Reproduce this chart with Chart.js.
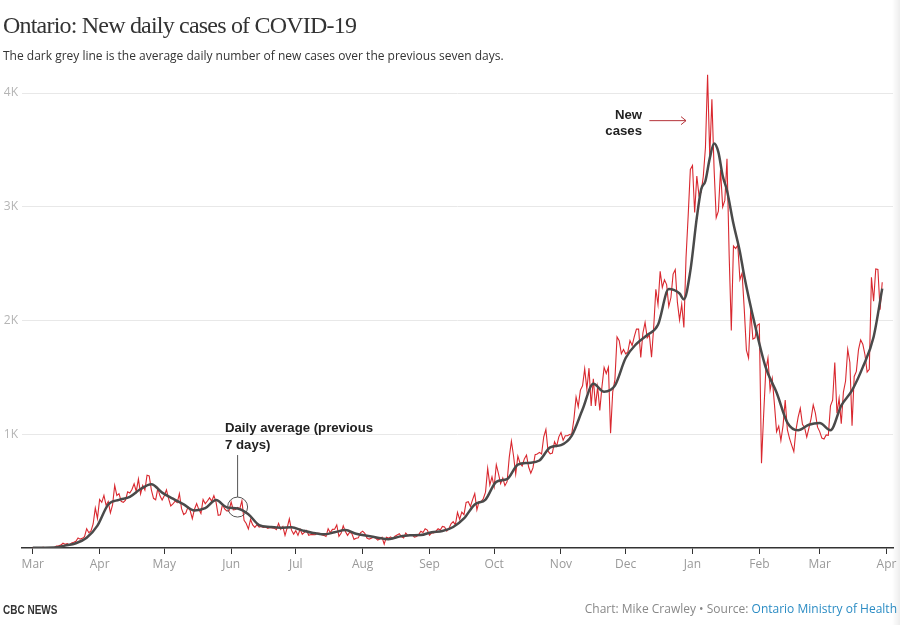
<!DOCTYPE html>
<html>
<head>
<meta charset="utf-8">
<title>Ontario: New daily cases of COVID-19</title>
<script src="https://cdn.jsdelivr.net/npm/chart.js@4.4.1/dist/chart.umd.min.js"></script>
<style>
  html, body { margin: 0; padding: 0; background: #fff; }
  #wrap { position: relative; width: 900px; height: 625px; overflow: hidden; }
  #chart { position: absolute; left: 0; top: 0; }
  .txt { position: absolute; white-space: nowrap; }
  #title { left: 3px; top: 13px; font-family: "Liberation Serif", serif; font-size: 24px; line-height: 24px; letter-spacing: -0.8px; color: #333; }
  #sub { left: 3px; top: 48px; font-family: "Open Sans", sans-serif; font-size: 12px; line-height: 16px; color: #333; }
  .note { font-family: "Liberation Sans", Arial, sans-serif; font-weight: bold; font-size: 13.2px; line-height: 17px; color: #222; }
  #noteAvg { left: 225px; top: 419px; }
  #noteNew { right: 258px; top: 107px; line-height: 16px; text-align: right; }
  #brand { left: 3px; top: 601px; font-family: "Liberation Sans", sans-serif; font-weight: bold; font-size: 12.5px; line-height: 18px; color: #333; transform: scaleX(0.8); transform-origin: 0 0; }
  #credit { right: 3px; top: 600px; font-family: "Open Sans", sans-serif; font-size: 12px; line-height: 18px; color: #888; }
  #credit span { color: #2b8cc4; }
  #edge { position: absolute; left: 892px; top: 0; width: 8px; height: 625px; background: linear-gradient(to right, rgba(0,0,0,0), rgba(0,0,0,0.07)); }
</style>
</head>
<body>
<div id="wrap">
  <canvas id="chart" width="900" height="625"></canvas>
  <div class="txt" id="title">Ontario: New daily cases of COVID-19</div>
  <div class="txt" id="sub">The dark grey line is the average daily number of new cases over the previous seven days.</div>
  <div class="txt note" id="noteAvg">Daily average (previous<br>7 days)</div>
  <div class="txt note" id="noteNew">New<br>cases</div>
  <div class="txt" id="brand">CBC NEWS</div>
  <div class="txt" id="credit">Chart: Mike Crawley • Source: <span>Ontario Ministry of Health</span></div>
  <div id="edge"></div>
</div>
<script>
// x axis: days since March 1, 2020
const monthDays = [0, 31, 61, 92, 122, 153, 184, 214, 245, 275, 306, 337, 365, 396];
const monthLabels = ["Mar", "Apr", "May", "Jun", "Jul", "Aug", "Sep", "Oct", "Nov", "Dec", "Jan", "Feb", "Mar", "Apr"];
const yTicks = [0, 1000, 2000, 3000, 4000];
const yTickLabels = ["", "1K", "2K", "3K", "4K"];

// new cases reported each day
const mar20 = [3,2,2,2,3,5,0,4,3,5,5,17,20,25,42,32,39,27,45,51,59,88,78,85,100,170,135,151,211,351,260];
const apr20 = [426,401,462,375,408,309,379,550,462,478,411,401,421,494,483,514,565,497,606,476,551,510,640,634,511,437,424,525,459,421];
const may20 = [459,511,434,370,387,412,399,477,346,294,308,361,329,258,341,391,340,304,427,390,413,441,412,460,404,287,292,383,344,326,326];
const jun20 = [404,335,338,356,344,415,243,215,167,251,203,182,205,184,190,181,184,173,180,177,175,161,216,163,189,111,178,257,157,122];
const jul20 = [153,111,165,121,138,154,112,118,118,116,130,129,116,111,102,170,135,164,165,203,103,129,195,144,111,138,127,76,86,89,134];
const aug20 = [148,129,88,78,86,95,88,70,78,94,33,95,87,98,79,103,115,125,100,89,131,108,115,115,96,101,118,148,136,169,158];
const sep20 = [112,133,132,148,169,158,190,185,149,170,213,232,204,313,251,315,293,401,407,365,425,478,335,409,409,435,491,700,554,625];
const oct20 = [538,732,653,566,615,548,583,797,939,809,649,807,746,721,783,817,712,658,704,821,827,841,826,978,1042,851,827,834,934,896,977];
const nov20 = [1015,948,987,987,998,1003,1132,1328,1242,1388,1426,1575,1396,1581,1248,1487,1249,1417,1210,1418,1588,1534,1589,1009,1373,1478,1855,1822,1708,1746];
const dec20 = [1707,1723,1824,1780,1859,1924,1925,1676,1890,1983,1848,1873,1677,1940,2275,2139,2432,2290,2357,2316,2123,2202,2408,2447,2159,2005,2142,1939,2553,2923,3328];
const jan21 = [3363,2950,3270,3100,3128,3266,3519,4160,3443,3945,3338,2903,2961,3326,2998,3056,3422,2578,1913,2655,2632,2662,2359,2417,2103,1740,1670,2093,1837,1848,1958];
const feb21 = [1969,745,1172,1563,1670,1388,1489,1265,1022,1072,945,1076,1300,1041,964,904,847,1038,1150,1228,1087,1058,975,1054,1138,1258,1185,1062];
const mar21 = [1023,966,958,994,990,1250,1299,1631,1185,1316,1092,1371,1468,1747,1631,1074,1508,1553,1745,1829,1791,1699,1546,1571,2380,2169,2453,2448,2094,2336];

// seven-day average
const avgDays = [0,5,10,15,20,25,30,35,40,45,50,55,60,65,70,75,80,85,90,95,100,105,110,115,120,125,130,135,140,145,150,155,160,165,170,175,180,185,190,195,200,205,210,215,220,225,230,235,240,245,250,255,260,265,270,275,280,285,290,295,300,302,305,308,310,312,314,316,318,320,322,325,328,330,335,340,345,350,355,360,365,370,375,380,385,390,394];
const avgValues = [2,3,4,21,42,90,197,383,423,450,519,561,487,434,384,330,350,421,357,347,297,201,185,178,182,155,132,120,138,158,125,107,91,78,100,112,114,139,149,185,260,383,426,582,605,733,748,769,885,905,988,1217,1443,1374,1427,1670,1795,1872,1962,2276,2237,2186,2436,2904,3152,3228,3425,3555,3480,3273,3143,2850,2603,2392,1958,1585,1367,1103,1035,1084,1099,1035,1252,1386,1590,1855,2280];

const newCases = [].concat(mar20, apr20, may20, jun20, jul20, aug20, sep20, oct20, nov20, dec20, jan21, feb21, mar21);
const casePoints = newCases.map((v, i) => ({x: i, y: v}));
const avgPoints = avgDays.map((d, i) => ({x: d, y: avgValues[i]}));

// circle + leader for the average label, arrow for the new cases label
const notes = {
  id: "notes",
  afterDatasetsDraw(chart) {
    const {ctx, scales: {x, y}} = chart;
    ctx.save();
    ctx.strokeStyle = "#555";
    ctx.lineWidth = 1;
    const cx = x.getPixelForValue(95), cy = y.getPixelForValue(360);
    ctx.beginPath();
    ctx.arc(cx, cy, 10, 0, Math.PI * 2);
    ctx.stroke();
    ctx.beginPath();
    ctx.moveTo(cx, cy - 10);
    ctx.lineTo(cx, cy - 52);
    ctx.stroke();

    const ay = y.getPixelForValue(3757);
    const ax0 = x.getPixelForValue(286), ax1 = x.getPixelForValue(303);
    ctx.strokeStyle = "#b5343a";
    ctx.beginPath();
    ctx.moveTo(ax0, ay);
    ctx.lineTo(ax1, ay);
    ctx.moveTo(ax1 - 5, ay - 4);
    ctx.lineTo(ax1, ay);
    ctx.lineTo(ax1 - 5, ay + 4);
    ctx.stroke();
    ctx.restore();
  }
};

new Chart(document.getElementById("chart").getContext("2d"), {
  type: "line",
  data: {
    datasets: [
      { label: "Daily average", data: avgPoints, borderColor: "#4a4a4a", borderWidth: 2.5, pointRadius: 0, cubicInterpolationMode: "monotone", fill: false },
      { label: "New cases", data: casePoints, borderColor: "#d9282f", borderWidth: 1.1, pointRadius: 0, tension: 0, fill: false }
    ]
  },
  options: {
    responsive: false,
    animation: false,
    layout: { padding: { top: 47.5, right: 7, bottom: 40, left: 0 } },
    plugins: { legend: { display: false }, tooltip: { enabled: false } },
    scales: {
      x: {
        type: "linear", min: -5, max: 399,
        afterBuildTicks: s => { s.ticks = monthDays.map(v => ({value: v})); },
        afterFit: s => { s.height = 37; },
        ticks: { autoSkip: false, maxRotation: 0, padding: 3, color: "#999", font: { family: "Open Sans", size: 12 },
                 callback: v => monthLabels[monthDays.indexOf(v)] },
        grid: { drawOnChartArea: false, drawTicks: true, tickLength: 6, color: "#333" },
        border: { display: true, color: "#333", width: 1.5 }
      },
      y: {
        min: 0, max: 4400,
        afterBuildTicks: s => { s.ticks = yTicks.map(v => ({value: v})); },
        afterFit: s => { s.width = 22; },
        ticks: { color: "#b5b5b5", padding: 4, font: { family: "Open Sans", size: 12 },
                 callback: v => yTickLabels[yTicks.indexOf(v)] },
        grid: { drawTicks: false, color: c => (c.tick && c.tick.value === 0) ? "rgba(0,0,0,0)" : "#e8e8e8" },
        border: { display: false }
      }
    }
  },
  plugins: [notes]
});
</script>
</body>
</html>
